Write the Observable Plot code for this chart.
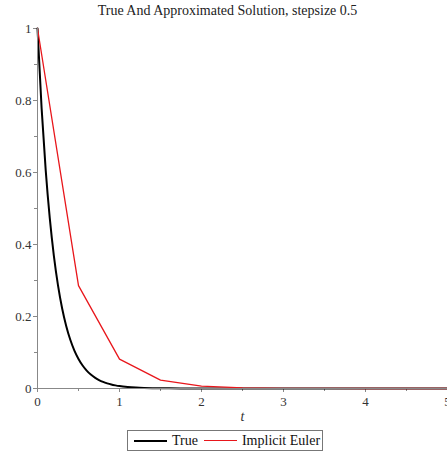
<!DOCTYPE html>
<html>
<head>
<meta charset="utf-8">
<script src="https://cdn.jsdelivr.net/npm/d3@7"></script>
<script src="https://cdn.jsdelivr.net/npm/@observablehq/plot@0.6"></script>
<style>
  html, body { margin: 0; padding: 0; background: #fff; }
  #wrap { width: 447px; height: 453px; position: relative; font-family: "Liberation Serif", "DejaVu Serif", serif; }
  #title { height: 22px; line-height: 22px; font-size: 14px; text-align: center; color: #222; padding-left: 8px; }
  #legend { position: absolute; left: 127px; top: 430px; width: 194px; height: 19px; border: 1px solid #777; display: flex; align-items: center; font-size: 14px; color: #111; box-sizing: content-box; }
  #legend .sw { display: inline-block; width: 33px; height: 0; margin: 0 5px 0 6px; }
  svg { display: block; }
</style>
</head>
<body>
<div id="wrap">
  <div id="title">True And Approximated Solution, stepsize 0.5</div>
  <div id="chart"></div>
  <div id="legend"></div>
</div>
<script>
// True solution samples
const tTrue = [0, 0.05, 0.1, 0.15, 0.2, 0.25, 0.3, 0.35, 0.4, 0.45, 0.5, 0.55, 0.6, 0.65, 0.7, 0.75, 0.8, 0.85, 0.9, 0.95, 1.0, 1.1, 1.2, 1.3, 1.4, 1.5, 1.75, 2.0, 2.5, 3, 4, 5];
const yTrue = [1.0, 0.7788, 0.6065, 0.4724, 0.3679, 0.2865, 0.2231, 0.1738, 0.1353, 0.1054, 0.0821, 0.0639, 0.0498, 0.0388, 0.0302, 0.0235, 0.0183, 0.0143, 0.0111, 0.0087, 0.0067, 0.0041, 0.0025, 0.0015, 0.0009, 0.0006, 0.0002, 0.0000, 0, 0, 0, 0];
// Implicit Euler, step 0.5
const tEuler = [0, 0.5, 1.0, 1.5, 2.0, 2.5, 3.0, 3.5, 4.0, 4.5, 5.0];
const yEuler = [1.0, 0.2857, 0.0816, 0.0233, 0.0067, 0.0019, 0.0005, 0.0002, 0.00004, 0.00001, 0.000003];
// Ticks
const xTicks = [0, 1, 2, 3, 4, 5];
const xTickLabels = ["0", "1", "2", "3", "4", "5"];
const xMinor = [0.5, 1.5, 2.5, 3.5, 4.5];
const yTicks = [0, 0.2, 0.4, 0.6, 0.8, 1];
const yTickLabels = ["0", "0.2", "0.4", "0.6", "0.8", "1"];
const yMinor = [0.1, 0.3, 0.5, 0.7, 0.9];
const seriesNames = ["True", "Implicit Euler"];
const seriesColors = ["#000000", "#e8161b"];

const trueData = tTrue.map((t, i) => ({t, y: yTrue[i]}));
const eulerData = tEuler.map((t, i) => ({t, y: yEuler[i]}));

const chart = Plot.plot({
  width: 447,
  height: 405,
  marginTop: 6,
  marginLeft: 37,
  marginRight: 0,
  marginBottom: 39,
  style: {fontFamily: "Liberation Serif, serif", fontSize: "13px", color: "#333", background: "transparent"},
  x: {domain: [0, 5]},
  y: {domain: [0, 1]},
  marks: [
    Plot.axisX({ticks: xMinor, tickSize: 3, tickFormat: () => "", stroke: "#888", label: null}),
    Plot.axisY({ticks: yMinor, tickSize: 3, tickFormat: () => "", stroke: "#888", label: null}),
    Plot.axisX({ticks: xTicks, tickSize: 4, tickPadding: 4, stroke: "#888", fill: "#333",
      tickFormat: (d) => xTickLabels[xTicks.indexOf(d)], label: null}),
    Plot.axisY({ticks: yTicks, tickSize: 4, tickPadding: 2, stroke: "#888", fill: "#333",
      tickFormat: (d) => yTickLabels[yTicks.indexOf(d)], label: null}),
    Plot.line(trueData, {x: "t", y: "y", stroke: seriesColors[0], strokeWidth: 2, curve: "monotone-x"}),
    Plot.line(eulerData, {x: "t", y: "y", stroke: seriesColors[1], strokeWidth: 1.3}),
    Plot.ruleX([0], {stroke: "#888", strokeWidth: 1}),
    Plot.ruleY([0], {stroke: "#888", strokeWidth: 1}),
    Plot.text(["t"], {frameAnchor: "bottom", dy: 32, fontStyle: "italic", fontSize: 14, fill: "#333"})
  ]
});
document.getElementById("chart").appendChild(chart);

const legend = document.getElementById("legend");
seriesNames.forEach((name, i) => {
  const sw = document.createElement("span");
  sw.className = "sw";
  sw.style.borderTop = (i === 0 ? "2px" : "1.5px") + " solid " + seriesColors[i];
  legend.appendChild(sw);
  const lbl = document.createElement("span");
  lbl.textContent = name;
  legend.appendChild(lbl);
});
</script>
</body>
</html>
